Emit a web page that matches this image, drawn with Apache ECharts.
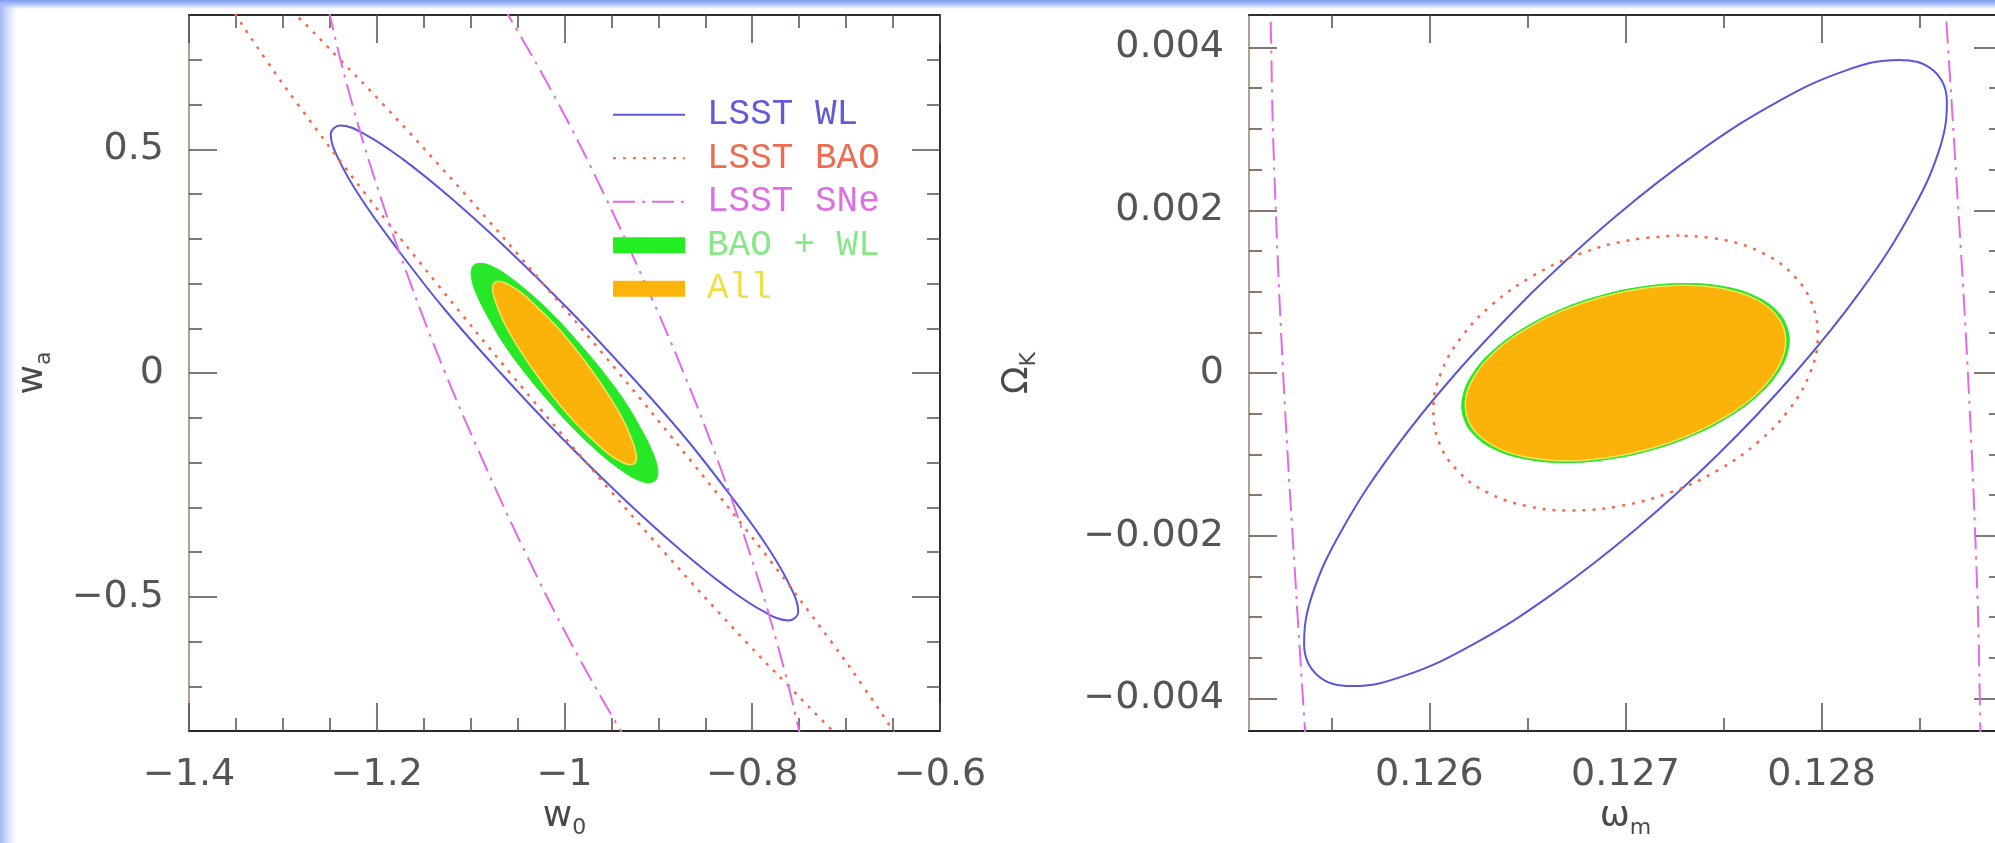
<!DOCTYPE html>
<html>
<head>
<meta charset="utf-8">
<script src="https://cdn.jsdelivr.net/npm/echarts@6/dist/echarts.min.js"></script>
<style>
  html, body { margin: 0; padding: 0; }
  body {
    width: 1995px; height: 843px; overflow: hidden;
    background:
      linear-gradient(to bottom, #7f9bef 0, #a9bcf5 4px, rgba(255,255,255,0) 9px),
      linear-gradient(to right, #a4b6f3 0, #ccd7f9 6px, #ffffff 16px);
  }
  #chart { width: 1995px; height: 843px; }
</style>
</head>
<body>
<div id="chart"></div>
<script>
// axis ranges and ticks
const leftXRange = [-1.4, -0.6];
const leftYRange = [-0.8, 0.8];
const rightXRange = [0.12508, 0.12892];
const rightYRange = [-0.0044, 0.0044];

const leftXTicks = [-1.4, -1.2, -1, -0.8, -0.6];
const leftXMinor = [-1.35, -1.3, -1.25, -1.15, -1.1, -1.05, -0.95, -0.9, -0.85, -0.75, -0.7, -0.65];
const leftYTicks = [-0.5, 0, 0.5];
const leftYMinor = [-0.7, -0.6, -0.4, -0.3, -0.2, -0.1, 0.1, 0.2, 0.3, 0.4, 0.6, 0.7];
const rightXTicks = [0.126, 0.127, 0.128];
const rightXMinor = [0.1255, 0.1265, 0.1275, 0.1285];
const rightYTicks = [-0.004, -0.002, 0, 0.002, 0.004];
const rightYMinor = [-0.0035, -0.003, -0.0025, -0.0015, -0.001, -0.0005, 0.0005, 0.001, 0.0015, 0.0025, 0.003, 0.0035];

// left panel: w0 vs wa
const wlLeft = [[-0.932,0],[-0.996,0.143],[-1.061,0.277],[-1.121,0.391],[-1.173,0.479],[-1.213,0.534],[-1.239,0.553],[-1.249,0.534],[-1.241,0.479],[-1.217,0.391],[-1.178,0.277],[-1.128,0.143],[-1.068,0],[-1.004,-0.143],[-0.939,-0.277],[-0.879,-0.391],[-0.827,-0.479],[-0.787,-0.534],[-0.761,-0.553],[-0.751,-0.534],[-0.759,-0.479],[-0.783,-0.391],[-0.822,-0.277],[-0.872,-0.143],[-0.932,0]];
const baoLeftA = [[-1.378,0.9],[-1.350,0.8],[-1.318,0.7],[-1.284,0.6],[-1.212,0.4],[-1.136,0.2],[-1.058,0],[-0.977,-0.2],[-0.894,-0.4],[-0.807,-0.6],[-0.761,-0.7],[-0.714,-0.8],[-0.662,-0.9]];
const baoLeftB = [[-1.338,0.9],[-1.286,0.8],[-1.239,0.7],[-1.193,0.6],[-1.106,0.4],[-1.023,0.2],[-0.942,0],[-0.864,-0.2],[-0.788,-0.4],[-0.716,-0.6],[-0.682,-0.7],[-0.650,-0.8],[-0.622,-0.9]];
const sneLeftA = [[-1.259,0.9],[-1.250,0.8],[-1.226,0.6],[-1.197,0.4],[-1.164,0.2],[-1.127,0],[-1.086,-0.2],[-1.042,-0.4],[-0.994,-0.6],[-0.940,-0.8],[-0.910,-0.9]];
const sneLeftB = [[-1.090,0.9],[-1.060,0.8],[-1.006,0.6],[-0.958,0.4],[-0.914,0.2],[-0.873,0],[-0.836,-0.2],[-0.803,-0.4],[-0.774,-0.6],[-0.750,-0.8],[-0.741,-0.9]];
const baoWlLeft = [[-0.958,0],[-0.983,0.063],[-1.009,0.123],[-1.034,0.173],[-1.057,0.212],[-1.076,0.237],[-1.090,0.245],[-1.098,0.237],[-1.099,0.212],[-1.093,0.173],[-1.081,0.123],[-1.064,0.063],[-1.042,0],[-1.017,-0.063],[-0.991,-0.123],[-0.966,-0.173],[-0.943,-0.212],[-0.924,-0.237],[-0.910,-0.245],[-0.902,-0.237],[-0.901,-0.212],[-0.907,-0.173],[-0.919,-0.123],[-0.936,-0.063]];
const allLeft = [[-0.969,0],[-0.988,0.053],[-1.008,0.103],[-1.028,0.145],[-1.045,0.178],[-1.060,0.198],[-1.070,0.205],[-1.076,0.198],[-1.076,0.178],[-1.071,0.145],[-1.062,0.103],[-1.048,0.053],[-1.031,0],[-1.012,-0.053],[-0.992,-0.103],[-0.972,-0.145],[-0.955,-0.178],[-0.940,-0.198],[-0.930,-0.205],[-0.924,-0.198],[-0.924,-0.178],[-0.929,-0.145],[-0.938,-0.103],[-0.952,-0.053]];

// right panel: omega_m vs Omega_K
const wlRight = [[0.126526,0.000996],[0.126136,0],[0.125804,-0.000996],[0.125555,-0.001924],[0.125403,-0.002721],[0.125361,-0.003332],[0.125430,-0.003717],[0.125606,-0.003848],[0.125878,-0.003717],[0.126225,-0.003332],[0.126625,-0.002721],[0.127051,-0.001924],[0.127474,-0.000996],[0.127864,0],[0.128196,0.000996],[0.128445,0.001924],[0.128597,0.002721],[0.128639,0.003332],[0.128570,0.003717],[0.128394,0.003848],[0.128122,0.003717],[0.127775,0.003332],[0.127375,0.002721],[0.126949,0.001924],[0.126526,0.000996]];
const baoRight = [[0.127274,0.001690],[0.127021,0.001632],[0.126766,0.001464],[0.126529,0.001195],[0.126322,0.000845],[0.126162,0.000437],[0.126059,0],[0.126020,-0.000437],[0.126048,-0.000845],[0.126141,-0.001195],[0.126292,-0.001464],[0.126491,-0.001632],[0.126726,-0.001690],[0.126979,-0.001632],[0.127234,-0.001464],[0.127471,-0.001195],[0.127678,-0.000845],[0.127838,-0.000437],[0.127941,0],[0.127980,0.000437],[0.127952,0.000845],[0.127859,0.001195],[0.127708,0.001464],[0.127509,0.001632],[0.127274,0.001690]];
const sneRightA = [[0.125186,0.0048],[0.125190,0.0044],[0.125206,0.00269],[0.125254,0],[0.125318,-0.0026],[0.125366,-0.0044],[0.125378,-0.0048]];
const sneRightB = [[0.128622,0.0048],[0.128634,0.0044],[0.128682,0.0026],[0.128746,0],[0.128794,-0.00269],[0.128810,-0.0044],[0.128814,-0.0048]];
const baoWlRight = [[0.127776,0],[0.127829,0.000285],[0.127825,0.000550],[0.127765,0.000778],[0.127653,0.000953],[0.127497,0.001062],[0.127306,0.001100],[0.127095,0.001062],[0.126877,0.000953],[0.126667,0.000778],[0.126481,0.000550],[0.126329,0.000285],[0.126224,0],[0.126171,-0.000285],[0.126175,-0.000550],[0.126235,-0.000778],[0.126347,-0.000953],[0.126503,-0.001062],[0.126694,-0.001100],[0.126905,-0.001062],[0.127123,-0.000953],[0.127333,-0.000778],[0.127519,-0.000550],[0.127671,-0.000285]];
const allRight = [[0.127760,0],[0.127812,0.000280],[0.127808,0.000540],[0.127750,0.000763],[0.127640,0.000935],[0.127488,0.001042],[0.127300,0.001080],[0.127093,0.001042],[0.126880,0.000935],[0.126674,0.000763],[0.126491,0.000540],[0.126342,0.000280],[0.126240,0],[0.126188,-0.000280],[0.126192,-0.000540],[0.126250,-0.000763],[0.126360,-0.000935],[0.126512,-0.001042],[0.126700,-0.001080],[0.126907,-0.001042],[0.127120,-0.000935],[0.127326,-0.000763],[0.127509,-0.000540],[0.127658,-0.000280]];

const WL = '#5b55d9', BAO = '#f06a4e', SNE = '#e36ae6', GREEN = '#27e827', ORANGE = '#fbb30a';

const labelFont = { fontFamily: 'DejaVu Sans', fontSize: 38, color: '#555555' };
const fmt = v => String(v).replace('-', '\u2212');
const tickStyle = { color: '#5b4e46', width: 1.5 };

function nameRich() {
  return {
    m: { fontFamily: 'DejaVu Sans', fontSize: 36, lineHeight: 44, color: '#4a4a4a' },
    s: { fontFamily: 'DejaVu Sans', fontSize: 22, lineHeight: 22, color: '#4a4a4a', verticalAlign: 'bottom' }
  };
}

function axisSet(dim, grid, range, majors, minors, name, gap, frameColor) {
  const sides = dim === 'x' ? ['bottom', 'top'] : ['left', 'right'];
  const base = { type: 'value', gridIndex: grid, min: range[0], max: range[1], splitLine: { show: false }, silent: true };
  return [
    Object.assign({}, base, {
      position: sides[0],
      axisLine: { show: true, onZero: false, lineStyle: { color: frameColor, width: 2 } },
      axisTick: { show: true, inside: true, length: 28, customValues: majors, lineStyle: tickStyle },
      axisLabel: Object.assign({ show: true, customValues: majors, formatter: fmt, margin: 25 }, labelFont),
      name: name, nameLocation: 'middle', nameGap: gap, nameTextStyle: { rich: nameRich() }
    }),
    Object.assign({}, base, {
      position: sides[0],
      axisLine: { show: false, onZero: false },
      axisTick: { show: true, inside: true, length: 13, customValues: minors, lineStyle: tickStyle },
      axisLabel: { show: false }
    }),
    Object.assign({}, base, {
      position: sides[1],
      axisLine: { show: true, onZero: false, lineStyle: { color: '#2e2e2e', width: 2 } },
      axisTick: { show: true, inside: true, length: 28, customValues: majors, lineStyle: tickStyle },
      axisLabel: { show: false }
    }),
    Object.assign({}, base, {
      position: sides[1],
      axisLine: { show: false, onZero: false },
      axisTick: { show: true, inside: true, length: 13, customValues: minors, lineStyle: tickStyle },
      axisLabel: { show: false }
    })
  ];
}

function curve(name, data, xi, yi, color, dash, width) {
  return {
    type: 'line', name: name, data: data, xAxisIndex: xi, yAxisIndex: yi,
    smooth: 0.4, symbol: 'none', clip: true, silent: true, z: 3,
    lineStyle: { color: color, width: width, type: dash },
    itemStyle: { color: color }
  };
}

function patch(name, pts, xi, yi, color, edge, edgeWidth) {
  return {
    type: 'custom', name: name, data: pts, xAxisIndex: xi, yAxisIndex: yi,
    encode: { x: 0, y: 1 }, clip: true, silent: true, z: 4,
    itemStyle: { color: color },
    renderItem: function (params, api) {
      if (params.dataIndex !== 0) return null;
      return {
        type: 'polygon',
        shape: { points: pts.map(p => api.coord(p)), smooth: 0.4 },
        style: { fill: color, stroke: edge, lineWidth: edgeWidth }
      };
    }
  };
}

const hideDot = { opacity: 0 };

const option = {
  animation: false,
  grid: [
    { left: 189, top: 15, width: 751, height: 716, outerBoundsMode: 'none' },
    { left: 1249, top: 15, width: 753, height: 716, outerBoundsMode: 'none' }
  ],
  xAxis: [].concat(
    axisSet('x', 0, leftXRange, leftXTicks, leftXMinor, '{m|w}{s|0}', 57, '#262626'),
    axisSet('x', 1, rightXRange, rightXTicks, rightXMinor, '{m|\u03c9}{s|m}', 62, '#262626')
  ),
  yAxis: [].concat(
    axisSet('y', 0, leftYRange, leftYTicks, leftYMinor, '{m|w}{s|a}', 134, '#b4a08f'),
    axisSet('y', 1, rightYRange, rightYTicks, rightYMinor, '{m|\u03a9}{s|K}', 209, '#b4a08f')
  ),
  legend: {
    orient: 'vertical', left: 612, top: 93, padding: 0,
    itemWidth: 72, itemHeight: 16, itemGap: 0,
    selectedMode: false,
    textStyle: { fontFamily: "'Courier New', 'Liberation Mono', monospace", fontSize: 36, lineHeight: 43.5, padding: [0, 0, 0, 17] },
    data: [
      { name: 'LSST WL', itemStyle: hideDot, textStyle: { color: '#625ad8' } },
      { name: 'LSST BAO', itemStyle: hideDot, textStyle: { color: '#ee6a50' } },
      { name: 'LSST SNe', itemStyle: hideDot, textStyle: { color: '#de6fe0' } },
      { name: 'BAO + WL', icon: 'rect', itemStyle: { color: '#22ee22' }, textStyle: { color: '#86e886' } },
      { name: 'All', icon: 'rect', itemStyle: { color: '#fbb40c' }, textStyle: { color: '#f0e044' } }
    ]
  },
  series: [
    curve('LSST WL', wlLeft, 0, 0, WL, 'solid', 2),
    curve('LSST BAO', baoLeftA, 0, 0, BAO, [3, 7], 2.5),
    curve('LSST BAO', baoLeftB, 0, 0, BAO, [3, 7], 2.5),
    curve('LSST SNe', sneLeftA, 0, 0, SNE, [22, 7, 3, 7], 2),
    curve('LSST SNe', sneLeftB, 0, 0, SNE, [22, 7, 3, 7], 2),
    patch('BAO + WL', baoWlLeft, 0, 0, GREEN, GREEN, 1),
    patch('All', allLeft, 0, 0, ORANGE, '#f2e45c', 1.5),

    curve('LSST WL', wlRight, 4, 4, WL, 'solid', 2),
    curve('LSST BAO', baoRight, 4, 4, BAO, [3, 7], 2.5),
    curve('LSST SNe', sneRightA, 4, 4, SNE, [22, 7, 3, 7], 2),
    curve('LSST SNe', sneRightB, 4, 4, SNE, [22, 7, 3, 7], 2),
    patch('BAO + WL', baoWlRight, 4, 4, GREEN, GREEN, 1),
    patch('All', allRight, 4, 4, ORANGE, '#f2e45c', 1.5)
  ]
};

const chart = echarts.init(document.getElementById('chart'), null, { renderer: 'canvas' });
chart.setOption(option);
</script>
</body>
</html>
